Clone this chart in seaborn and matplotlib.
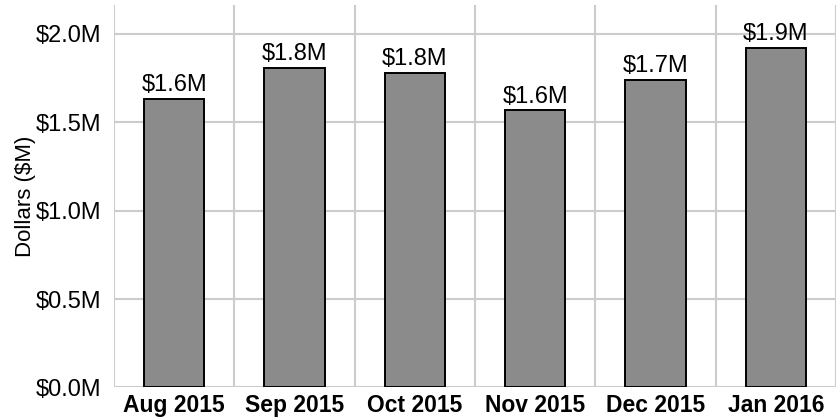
import numpy as np
import pandas as pd
import matplotlib
matplotlib.use("Agg")
import matplotlib.pyplot as plt
import seaborn as sns
from matplotlib.ticker import FuncFormatter, FixedLocator

# =========================
# Data
# =========================
months = ["Aug 2015", "Sep 2015", "Oct 2015", "Nov 2015", "Dec 2015", "Jan 2016"]
dollars_m = [1.632, 1.807, 1.777, 1.566, 1.737, 1.920]
bar_labels = ["$1.6M", "$1.8M", "$1.8M", "$1.6M", "$1.7M", "$1.9M"]
y_ticks = [0.0, 0.5, 1.0, 1.5, 2.0]

df = pd.DataFrame({"month": months, "dollars": dollars_m})

# =========================
# Style
# =========================
sns.set_style("white", {"text.color": "black", "axes.labelcolor": "black",
                        "xtick.color": "black", "ytick.color": "black"})
plt.rcParams["font.family"] = ["Liberation Sans", "DejaVu Sans"]

grid_col = "#cccccc"

fig = plt.figure(figsize=(8.37, 4.18), dpi=100)
ax = fig.add_axes([0.1362, 0.073, 0.8626, 0.915])

sns.barplot(
    data=df, x="month", y="dollars",
    color="#8a8b8a", saturation=1, width=0.5,
    edgecolor="black", linewidth=1.4, ax=ax, zorder=3,
)

ax.bar_label(ax.containers[0], labels=bar_labels, padding=2, fontsize=17,
             color="black")

# =========================
# Axes
# =========================
ax.set_xlim(-0.5, len(months) - 0.5)
ax.set_ylim(0, 2.162)
ax.yaxis.set_major_locator(FixedLocator(y_ticks))
ax.yaxis.set_major_formatter(FuncFormatter(lambda v, p: f"${v:.1f}M"))

ax.xaxis.set_minor_locator(FixedLocator(np.arange(-0.5, len(months), 1.0)))
ax.grid(which="minor", axis="x", color=grid_col, linewidth=1.5, zorder=0)
ax.grid(which="major", axis="y", color=grid_col, linewidth=1.5, zorder=0)

ax.tick_params(axis="y", which="major", length=9, width=1.5, color=grid_col,
               labelcolor="black", labelsize=17, pad=0)
ax.tick_params(axis="x", which="major", length=0, labelcolor="black",
               labelsize=16.5, pad=5)
ax.tick_params(axis="x", which="minor", length=7, width=1.5, color=grid_col)
for lbl in ax.get_xticklabels():
    lbl.set_fontweight("bold")

for s in ax.spines.values():
    s.set_visible(False)

ax.set_xlabel("")
ax.set_ylabel("Dollars ($M)", fontsize=16, labelpad=0, color="black")

fig.savefig("out.png", dpi=100)
